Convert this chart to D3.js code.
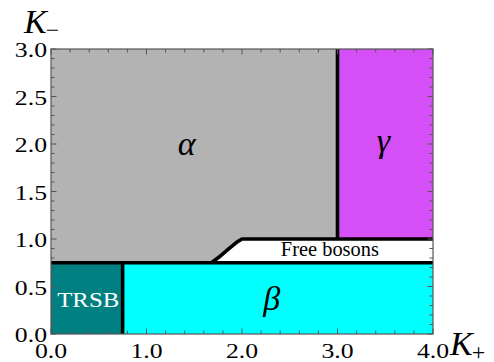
<!DOCTYPE html>
<html>
<head>
<meta charset="utf-8">
<script src="https://cdn.jsdelivr.net/npm/d3@7/dist/d3.min.js"></script>
<style>
  html, body { margin: 0; padding: 0; background: #fff; }
  svg { display: block; }
</style>
</head>
<body>
<svg id="chart" width="494" height="362"></svg>
<script>
// Phase diagram in the (K+, K-) plane
const xDomain = [0, 4];
const yDomain = [0, 3];
const xTickLabels = [0, 1, 2, 3, 4];
const yTickLabels = [0, 0.5, 1, 1.5, 2, 2.5, 3];
const xMinorStep = 0.2;
const yMinorStep = 0.1;

// Phase boundaries (K+, K-)
const lowerBoundary = [[0, 0.75], [4, 0.75]];
const trsbBoundary = [[0.75, 0], [0.75, 0.75]];
const bosonUpperBoundary = [[1.68, 0.75], [1.76, 0.81], [1.86, 0.895], [1.95, 0.97], [2.0, 1.0], [4, 1.0]];
const gammaBoundary = [[3, 1.0], [3, 3]];

// Phase regions: α, γ, TRSB, β
const phaseRegions = [
  [[0, 3], [3, 3], [3, 1.0], [2.0, 1.0], [1.95, 0.97], [1.86, 0.895], [1.76, 0.81], [1.68, 0.75], [0, 0.75]],
  [[3, 1.0], [4, 1.0], [4, 3], [3, 3]],
  [[0, 0], [0.75, 0], [0.75, 0.75], [0, 0.75]],
  [[0.75, 0], [4, 0], [4, 0.75], [0.75, 0.75]]
];
const phaseColors = ["#b3b3b3", "#d54ff6", "#008080", "#00ffff"];

// Region labels
const regionLabels = [
  { text: "α", at: [1.42, 1.88], size: 34, italic: true, color: "#000" },
  { text: "γ", at: [3.48, 1.92], size: 34, italic: true, color: "#000" },
  { text: "β", at: [2.31, 0.25], size: 34, italic: true, color: "#000" },
  { text: "TRSB", at: [0.39, 0.28], size: 22, italic: false, color: "#fff", len: 62 },
  { text: "Free bosons", at: [2.92, 0.82], size: 20, italic: false, color: "#000", len: 98 }
];

const FONT = "'Liberation Serif', 'Times New Roman', 'DejaVu Serif', serif";
const labelStretch = 1.17;

const svg = d3.select("#chart");
const margin = { left: 51, top: 49, right: 61, bottom: 28 };
const W = 494 - margin.left - margin.right;
const H = 362 - margin.top - margin.bottom;

const x = d3.scaleLinear().domain(xDomain).range([0, W]);
const y = d3.scaleLinear().domain(yDomain).range([H, 0]);

const g = svg.append("g").attr("transform", `translate(${margin.left},${margin.top})`);

const path = d3.line().x(d => x(d[0])).y(d => y(d[1]));

g.selectAll("path.region")
  .data(phaseRegions)
  .join("path")
  .attr("class", "region")
  .attr("d", d => path(d) + "Z")
  .attr("fill", (d, i) => phaseColors[i])
  .attr("stroke", "none");

// Boundaries
[lowerBoundary, trsbBoundary, bosonUpperBoundary, gammaBoundary].forEach(b => {
  g.append("path")
    .attr("d", path(b))
    .attr("fill", "none")
    .attr("stroke", "#000")
    .attr("stroke-width", 3.6)
    .attr("stroke-linejoin", "round");
});

// Region labels
g.selectAll("text.region-label")
  .data(regionLabels)
  .join("text")
  .attr("class", "region-label")
  .attr("x", d => x(d.at[0]))
  .attr("y", d => y(d.at[1]))
  .attr("text-anchor", "middle")
  .attr("font-family", FONT)
  .attr("font-size", d => d.size)
  .attr("font-style", d => d.italic ? "italic" : "normal")
  .attr("fill", d => d.color)
  .each(function (d) {
    if (d.len) d3.select(this).attr("textLength", d.len).attr("lengthAdjust", "spacingAndGlyphs");
  })
  .text(d => d.text);

// Frame
const frameColor = "#555";
g.append("rect")
  .attr("x", 0).attr("y", 0).attr("width", W).attr("height", H)
  .attr("fill", "none").attr("stroke", frameColor).attr("stroke-width", 1.2);

// Ticks on all four sides, pointing inward
const xTicks = d3.range(xDomain[0], xDomain[1] + 1e-9, xMinorStep);
const yTicks = d3.range(yDomain[0], yDomain[1] + 1e-9, yMinorStep);
const isMajorX = v => Math.abs(v - Math.round(v)) < 1e-6;
const isMajorY = v => Math.abs(v * 2 - Math.round(v * 2)) < 1e-6;

const ticks = g.append("g").attr("stroke", frameColor).attr("stroke-width", 1);
xTicks.forEach(v => {
  const len = isMajorX(v) ? 5.5 : 3.5;
  ticks.append("line").attr("x1", x(v)).attr("x2", x(v)).attr("y1", H).attr("y2", H - len);
  ticks.append("line").attr("x1", x(v)).attr("x2", x(v)).attr("y1", 0).attr("y2", len);
});
yTicks.forEach(v => {
  const len = isMajorY(v) ? 5.5 : 3.5;
  ticks.append("line").attr("y1", y(v)).attr("y2", y(v)).attr("x1", 0).attr("x2", len);
  ticks.append("line").attr("y1", y(v)).attr("y2", y(v)).attr("x1", W).attr("x2", W - len);
});

// Tick labels (slightly widened glyphs)
g.selectAll("text.xlab")
  .data(xTickLabels)
  .join("text")
  .attr("class", "xlab")
  .attr("transform", d => `translate(${x(d)},${H + 24}) scale(${labelStretch},1)`)
  .attr("text-anchor", "middle")
  .attr("font-family", FONT)
  .attr("font-size", 22)
  .attr("fill", "#000")
  .text(d => d3.format(".1f")(d));

g.selectAll("text.ylab")
  .data(yTickLabels)
  .join("text")
  .attr("class", "ylab")
  .attr("transform", d => `translate(-4,${y(d) + 8}) scale(${labelStretch},1)`)
  .attr("text-anchor", "end")
  .attr("font-family", FONT)
  .attr("font-size", 22)
  .attr("fill", "#000")
  .text(d => d3.format(".1f")(d));

// Axis titles
function axisTitle(xPos, yPos, sub) {
  const t = svg.append("text")
    .attr("x", xPos).attr("y", yPos)
    .attr("font-family", FONT)
    .attr("font-size", 34).attr("font-style", "italic").attr("fill", "#000");
  t.append("tspan").text("K");
  t.append("tspan").attr("font-style", "normal").attr("font-size", 24).attr("dx", -1).attr("dy", 5).text(sub);
}
axisTitle(24, 33, "−");
axisTitle(450, 355, "+");
</script>
</body>
</html>
